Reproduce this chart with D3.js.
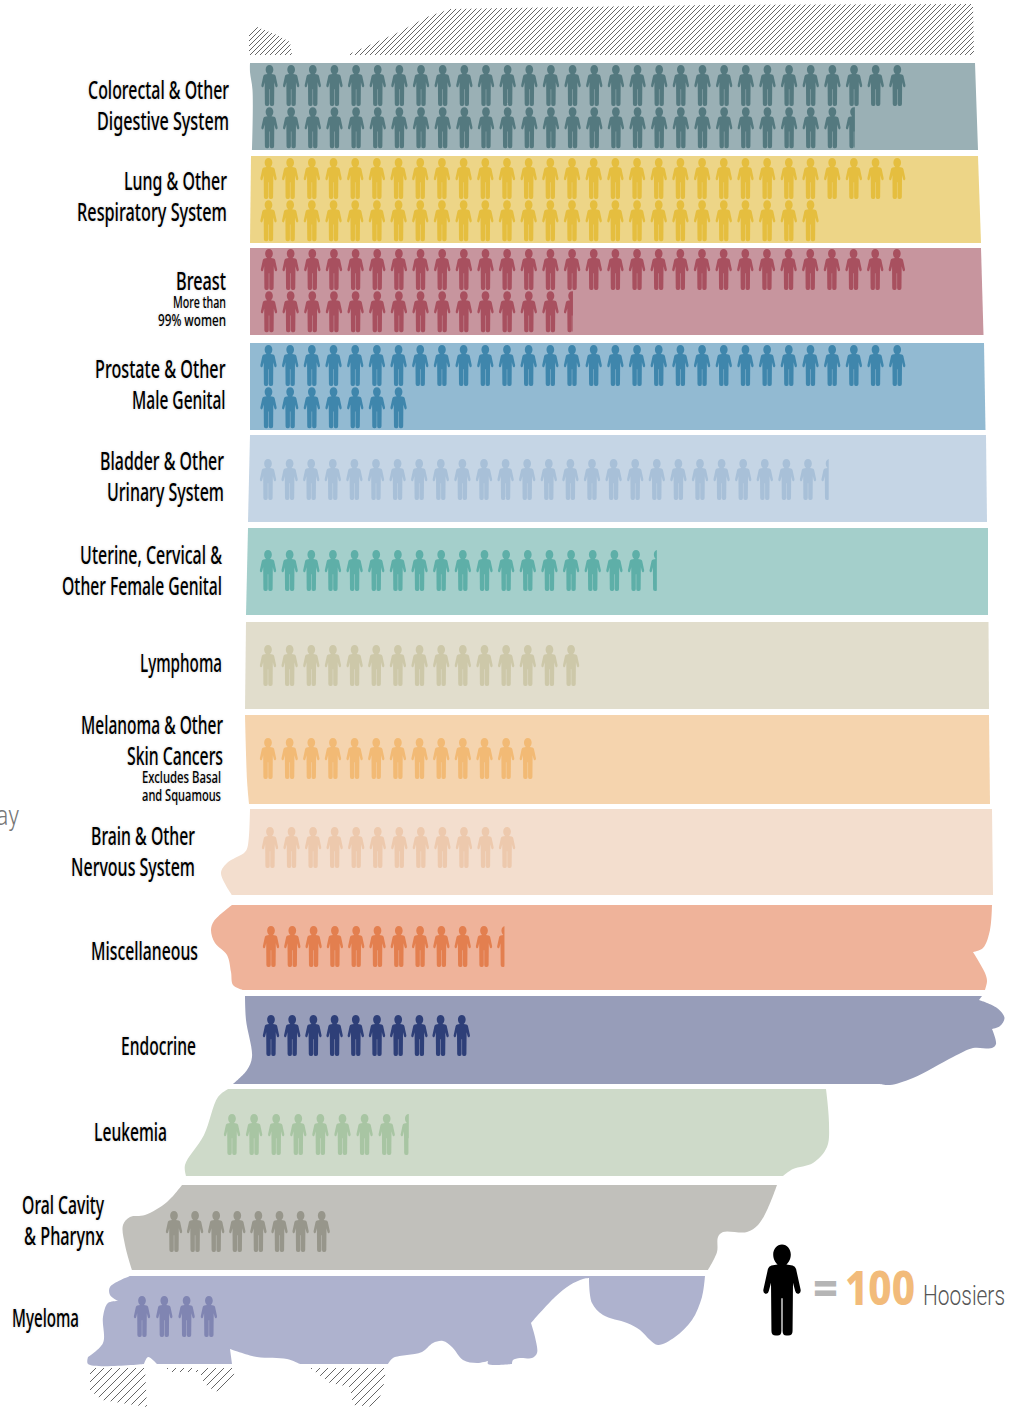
<!DOCTYPE html>
<html>
<head>
<meta charset="utf-8">
<script src="https://cdn.jsdelivr.net/npm/d3@7"></script>
<style>
  body { margin: 0; background: #fff; }
  svg { display: block; }
  .label { font-family: "Noto Sans", sans-serif; font-weight: 500; fill: #000; text-shadow: 0 0 3px rgba(0,0,0,.18); }
  .legend-bold { font-family: "Noto Sans", sans-serif; font-weight: 800; }
  .legend-light { font-family: Roboto, sans-serif; font-weight: 300; }
</style>
</head>
<body>
<div id="chart"></div>
<script>
// hundreds of Hoosiers per cancer group
const categories = ["Colorectal", "Lung", "Breast", "Prostate", "Bladder", "Uterine", "Lymphoma",
  "Melanoma", "Brain", "Miscellaneous", "Endocrine", "Leukemia", "Oral", "Myeloma"];
const hundreds = [57.55, 56, 44.55, 37, 26.45, 18.45, 15, 13, 12, 11.45, 10, 8.5, 8, 4];

const labelLines = [
  ["Colorectal & Other", "Digestive System"],
  ["Lung & Other", "Respiratory System"],
  ["Breast"],
  ["Prostate & Other", "Male Genital"],
  ["Bladder & Other", "Urinary System"],
  ["Uterine, Cervical &", "Other Female Genital"],
  ["Lymphoma"],
  ["Melanoma & Other", "Skin Cancers"],
  ["Brain & Other", "Nervous System"],
  ["Miscellaneous"],
  ["Endocrine"],
  ["Leukemia"],
  ["Oral Cavity", "& Pharynx"],
  ["Myeloma"]
];
const noteLines = [[], [], ["More than", "99% women"], [], [], [], [],
  ["Excludes Basal", "and Squamous"], [], [], [], [], [], []];

const bandColors = ["#9AB0B5", "#EDD587", "#C7959E", "#92BAD2", "#C5D5E5", "#A4CFCB", "#E1DDCC",
  "#F5D4AE", "#F3DECE", "#EFB39A", "#979DB9", "#CEDAC9", "#C1C0BB", "#AEB2CE"];
const figureColors = ["#54797F", "#E5BE3F", "#A8505F", "#3F86AC", "#A8C0D8", "#5EAFA8", "#CDC8A9",
  "#F2BA75", "#EDC9AD", "#E37F4F", "#2E3F78", "#A8C5A3", "#97968B", "#8085B2"];

// layout per row
const firstX = [269.5, 268.5, 269, 268.5, 268, 268, 268, 268, 270, 271, 271, 232, 174, 142];
const stepX = [21.65, 21.68, 21.65, 21.68, 21.6, 21.65, 21.65, 21.65, 21.55, 21.3, 21.2, 22.1, 21.1, 22.3];
const figureTop = [65, 158, 249, 345, 459, 550, 645, 738, 827, 926, 1015, 1114, 1211, 1296];
const labelRight = [229, 227, 226, 225.5, 224, 222, 222, 223, 195, 198, 196, 167, 104, 79];
const labelBase = [99, 190, 290, 378, 470, 564, 672, 734, 845, 960, 1055, 1141, 1214, 1327];
// left end of each text line, so the squeezed type fills the same width
const labelLeft = [[88, 97], [124, 77], [176], [95, 132], [100, 107], [80, 62], [140],
  [81, 127], [91, 71], [91], [121], [94], [22, 24], [12]];
const noteRight = [0, 0, 226, 0, 0, 0, 0, 221, 0, 0, 0, 0, 0, 0];
const noteLeft = [[], [], [173, 158], [], [], [], [], [142, 142], [], [], [], [], [], []];

const perRow = 30, rowGap = 42.2, figScaleX = 0.385, figScaleY = 0.41;
const labelSize = 25, noteSize = 15.5;

const width = 1019, height = 1407;
const svg = d3.select("#chart").append("svg").attr("width", width).attr("height", height);
const defs = svg.append("defs");

// base map: the state outline, cut in strips. Each run is smoothed, corners fall between runs
const outlines = [
  [[[250,63],[975,63]], [[975,63],[978,150]], [[978,150],[252,150]], [[252,150],[252.5,90],[250,72],[250,63]]],
  [[[251,156],[978,156]], [[978,156],[981,243]], [[981,243],[250,243]], [[250,243],[251,156]]],
  [[[250,248],[981,248]], [[981,248],[983.5,335]], [[983.5,335],[250,335]], [[250,335],[250,248]]],
  [[[250,343],[984,343]], [[984,343],[985.5,430]], [[985.5,430],[250,430]], [[250,430],[250,343]]],
  [[[250,435],[986,435]], [[986,435],[987,522]], [[987,522],[248,522]], [[248,522],[250,435]]],
  [[[248,528],[988,528]], [[988,528],[988,615]], [[988,615],[246,615]], [[246,615],[248,528]]],
  [[[246,622],[988.5,622]], [[988.5,622],[989,709]], [[989,709],[245,709]], [[245,709],[246,622]]],
  [[[245,715],[989,715]], [[989,715],[990,804]], [[990,804],[249,804]], [[249,804],[247,780],[245,715]]],
  [[[250,809],[992,809]], [[992,809],[993,895]], [[993,895],[232,895]],
    [[232,895],[221,873],[227,863],[245,852],[248,845],[250,809]]],
  [[[232,905],[992,905]], [[992,905],[990,930],[983,948],[973,952]], [[973,952],[985,973],[987,981],[985,990]],
    [[985,990],[243,990]], [[243,990],[233,985],[231,972],[227,955],[215,943],[211,930],[214,921],[232,905]]],
  [[[245,996],[982,996]], [[982,996],[979,1000]], [[979,1000],[997,1008],[1004.5,1018],[1000,1026],[992,1029]],
    [[992,1029],[996,1044],[992,1048],[973,1048],[953,1057],[913,1078],[890,1085],[880,1084]],
    [[880,1084],[233,1084]], [[233,1084],[247,1070],[252,1057],[246,1020],[245,996]]],
  [[[228,1089],[826,1089]], [[826,1089],[829,1123],[827,1147],[813,1163],[793,1169],[783,1176]],
    [[783,1176],[186,1176]], [[186,1176],[185,1165],[204,1135],[218,1097],[228,1089]]],
  [[[182,1185],[777,1185]], [[777,1185],[768,1208],[758,1225],[747,1232],[723,1232],[718,1237],[717,1252],[708,1270]],
    [[708,1270],[132,1270]], [[132,1270],[125,1245],[123,1225],[130,1217],[145,1215],[167,1202],[182,1185]]],
  [[[130,1276],[705,1276]], [[705,1276],[702,1297],[692,1320],[675,1337],[658,1345],[650,1340],[640,1330],[627,1323],[603,1315],[592,1303],[589,1278]],
    [[589,1278],[583,1279],[570,1285],[555,1297],[531,1323]],
    [[531,1323],[535,1337],[537,1353],[532,1358],[520,1358],[513,1360],[512,1364]],
    [[512,1364],[488,1364],[488,1361]],
    [[488,1361],[477,1363],[463,1360],[452,1347],[443,1341],[433,1343],[422,1352],[407,1355],[393,1358],[388,1364]],
    [[388,1364],[300,1364]], [[300,1364],[287,1359],[257,1357],[230,1349]], [[230,1349],[232,1364]],
    [[232,1364],[157,1364]], [[157,1364],[148,1357],[144,1364]], [[144,1364],[88,1364],[88,1357]],
    [[88,1357],[103,1343],[103,1317],[108,1303],[118,1301]], [[118,1301],[110,1295],[110,1287],[130,1276]]]
];

const hatchTop = [
  [[249,55],[249,33],[257,27],[277,35],[290,42],[292,55]],
  [[347,55],[397,33],[427,17],[450,9],[713,5],[973,4],[974,55]]
];
const hatchBottom = [
  [[90,1368],[145,1368],[147,1407],[102,1400],[90,1390]],
  [[167,1368],[198,1368],[198,1372],[167,1372]],
  [[201,1368],[235,1368],[233,1380],[218,1392],[208,1387],[201,1378]],
  [[310,1368],[386,1368],[383,1390],[375,1407],[353,1405],[350,1387],[330,1383]]
];

const smooth = d3.line().curve(d3.curveCatmullRom.alpha(0.5));
const outlinePath = runs => runs.map((r, i) => {
  const d = smooth(r);
  return i ? "L" + d.slice(1) : d;
}).join("") + "Z";

function hatch(id, g) {
  const p = defs.append("pattern").attr("id", id)
    .attr("patternUnits", "userSpaceOnUse")
    .attr("width", g).attr("height", g);
  p.append("path")
    .attr("d", `M-1,1L1,-1M0,${g}L${g},0M${g - 1},${g + 1}L${g + 1},${g - 1}`)
    .attr("stroke", "#666").attr("stroke-width", 1);
}
hatch("hatchTop", 5);
hatch("hatchBottom", 8);

svg.selectAll(".hatch-top").data(hatchTop).enter().append("path")
  .attr("d", d => d3.line()(d) + "Z").attr("fill", "url(#hatchTop)");
svg.selectAll(".hatch-bottom").data(hatchBottom).enter().append("path")
  .attr("d", d => d3.line()(d) + "Z").attr("fill", "url(#hatchBottom)");

svg.append("g").selectAll("path").data(outlines).enter().append("path")
  .attr("d", outlinePath)
  .attr("fill", (d, i) => bandColors[i]);

// one person, 100 units tall, centred on x = 0
const person = "M0,0C5.8,0 10,5 10,11C10,16 7.5,20 5,22L12,23Q15,23.5 16,27L21,49Q22,53 19,54Q16,55 15,51L12.5,42" +
  "L12,95Q12,100 7,100L5,100Q0.7,100 0.7,95L0.7,59L-0.7,59L-0.7,95Q-0.7,100 -5,100L-7,100Q-12,100 -12,95L-12.5,42" +
  "L-15,51Q-16,55 -19,54Q-22,53 -21,49L-16,27Q-15,23.5 -12,23L-5,22C-7.5,20 -10,16 -10,11C-10,5 -5.8,0 0,0Z";
const halfWidth = 22;

categories.forEach((name, r) => {
  const v = hundreds[r];
  const x = d3.scaleLinear().domain([0, 1]).range([firstX[r], firstX[r] + stepX[r]]);
  const y = d3.scaleLinear().domain([0, 1]).range([figureTop[r], figureTop[r] + rowGap]);
  const figures = d3.range(Math.ceil(v)).map(i => ({
    col: i % perRow,
    row: Math.floor(i / perRow),
    part: Math.min(1, v - i)
  }));
  const g = svg.append("g").attr("class", "row");
  g.selectAll("path").data(figures).enter().append("path")
    .attr("d", person)
    .attr("fill", figureColors[r])
    .attr("transform", d => `translate(${x(d.col)},${y(d.row)}) scale(${figScaleX},${figScaleY})`)
    .attr("clip-path", d => {
      if (d.part === 1) return null;
      const id = "cut" + r;
      defs.append("clipPath").attr("id", id).append("rect")
        .attr("x", -halfWidth - 2).attr("y", -5)
        .attr("width", 2 * halfWidth * d.part + 2).attr("height", 110);
      return `url(#${id})`;
    });
});

// right-aligned text, squeezed sideways to run from xl to xr
function fitText(parent, str, xl, xr, yb, size, cls) {
  const t = parent.append("text")
    .attr("class", cls || null)
    .attr("text-anchor", "end")
    .attr("font-size", size)
    .text(str);
  const sx = (xr - xl) / t.node().getComputedTextLength();
  t.attr("transform", `translate(${xr},${yb}) scale(${sx},1)`);
  return t;
}

const labels = svg.append("g").attr("class", "label");
categories.forEach((name, r) => {
  const yb = labelBase[r];
  labelLines[r].forEach((line, i) => {
    fitText(labels, line, labelLeft[r][i], labelRight[r], yb + i * 31, labelSize);
  });
  const below = yb + (labelLines[r].length - 1) * 31;
  noteLines[r].forEach((line, i) => {
    fitText(labels, line, noteLeft[r][i], noteRight[r], below + 18 + i * 17.5, noteSize);
  });
});

// stray word from the page next to the chart, cut by the left edge
svg.append("text")
  .attr("font-family", "Roboto, sans-serif").attr("font-weight", 300)
  .attr("font-size", 27).attr("fill", "#777")
  .attr("transform", "translate(-4,825) scale(0.85,1)")
  .text("ay");

// legend
const legend = svg.append("g");
legend.append("path").attr("d", person).attr("fill", "#000")
  .attr("transform", "translate(782,1244.5) scale(0.88,0.91)");
fitText(legend, "=", 813, 838, 1305, 46, "legend-bold").attr("fill", "#b5b5b5");
fitText(legend, "100", 845, 915, 1305, 48, "legend-bold").attr("fill", "#F2BB7A");
fitText(legend, "Hoosiers", 923, 1005, 1305, 27, "legend-light").attr("fill", "#555");
</script>
</body>
</html>
